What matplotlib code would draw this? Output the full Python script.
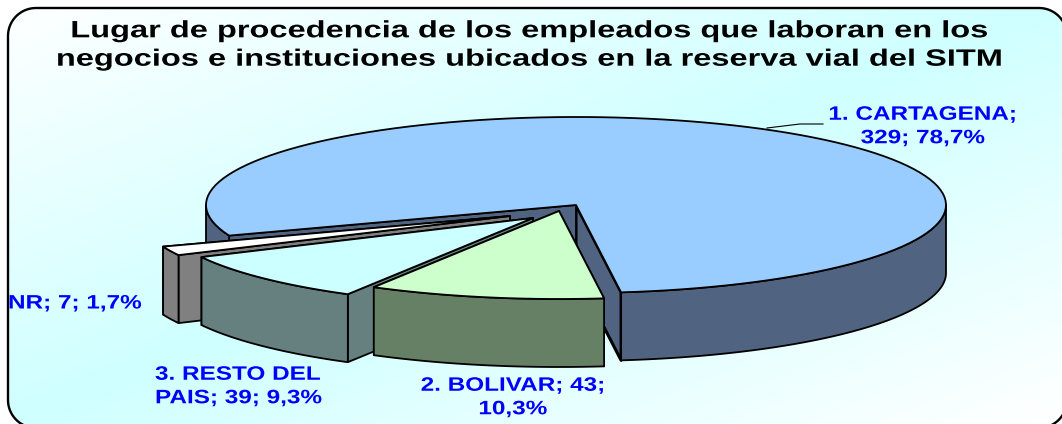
import numpy as np
from matplotlib import pyplot as plt
from matplotlib.patches import Polygon
from matplotlib.patheffects import AbstractPathEffect
from matplotlib.transforms import Affine2D
from matplotlib.colors import LinearSegmentedColormap

# data
categories = ["1. CARTAGENA", "2. BOLIVAR", "3. RESTO DEL\nPAIS", "NR"]
values = [329, 43, 39, 7]
percent_labels = ["78,7%", "10,3%", "9,3%", "1,7%"]
title = ("Lugar de procedencia de los empleados que laboran en los\n"
         "negocios e instituciones ubicados en la reserva vial del SITM")

# styles
top_colors = ["#99CCFF", "#CCFFCC", "#CCFFFF", "#FFFFFF"]
wall_colors = ["#506482", "#668066", "#668080", "#808080"]
offsets = [(0, 0), (-17, 6), (-43, 13), (-66, 11)]
draw_order = [0, 3, 2, 1]

# pie geometry in pixels
W, H = 1062, 424
CX, CY = 576, 205
RX, RY = 370, 88
DEPTH = 68
START = -83.0  # first slice ends here, slices run clockwise from it

plt.rcParams['font.family'] = ['Liberation Sans', 'DejaVu Sans']
fig = plt.figure(figsize=(W / 100, H / 100), dpi=100)
ax = fig.add_axes([0, 0, 1, 1])
ax.set_xlim(0, W)
ax.set_ylim(H, 0)
ax.axis('off')


class Stretch(AbstractPathEffect):
    # the original text is wider than any installed font, widen it about x0
    def __init__(self, sx, x0):
        super().__init__()
        self.sx = sx
        self.x0 = x0

    def draw_path(self, renderer, gc, tpath, affine, rgbFace=None):
        wide = affine + Affine2D().translate(-self.x0, 0).scale(self.sx, 1).translate(self.x0, 0)
        renderer.draw_path(gc, tpath, wide, rgbFace)


def rounded_rect(x0, y0, x1, y1, r):
    # plain line segments, curves running off the canvas get clipped badly
    t = np.radians(np.linspace(0, 90, 20))
    c, s = np.cos(t), np.sin(t)
    return np.vstack([
        np.column_stack([x1 - r + r * c, y1 - r + r * s]),
        np.column_stack([x0 + r - r * s, y1 - r + r * c]),
        np.column_stack([x0 + r - r * c, y0 + r - r * s]),
        np.column_stack([x1 - r + r * s, y0 + r - r * c]),
    ])


# rounded frame with diagonal white-cyan-white fill
frame = Polygon(rounded_rect(8, 8, 1067, 428, 28), closed=True, fc='none', ec='black',
                lw=1.7, zorder=3)
ax.add_patch(frame)
yy, xx = np.mgrid[0:1:120j, 0:1:300j]
cmap = LinearSegmentedColormap.from_list('bg', ['#FFFFFF', '#CFFFFF', '#FFFFFF'])
im = ax.imshow((xx + yy) / 2, extent=(0, W, H, 0), cmap=cmap, vmin=0.0, vmax=1.0,
               aspect='auto', zorder=0)
im.set_clip_path(frame)


def point(off, deg):
    a = np.radians(deg)
    return (CX + off[0] + RX * np.cos(a), CY + off[1] - RY * np.sin(a))


def arc(off, a0, a1):
    t = np.radians(np.linspace(a0, a1, 120))
    return np.column_stack([CX + off[0] + RX * np.cos(t), CY + off[1] - RY * np.sin(t)])


def down(pts):
    return np.asarray(pts) + [0, DEPTH]


def add_poly(pts, color, lw=1.3, z=1):
    ax.add_patch(Polygon(pts, closed=True, fc=color, ec='black', lw=lw,
                         joinstyle='round', zorder=z))


# slice angles come from the values
fracs = np.array(values) / sum(values) * 360
ends = [START + fracs[0]]
starts = [START]
cur = START
for f in fracs[1:]:
    ends.append(cur)
    starts.append(cur - f)
    cur -= f

for i in draw_order:
    off = offsets[i]
    a0, a1 = starts[i], ends[i]
    apex = np.array([[CX + off[0], CY + off[1]]])
    # radial faces, hidden one first
    for ang in (a0, a1):
        edge = np.array([point(off, ang)])
        width = 2.2 if (i == 0 and ang == a0) else 1.3
        add_poly(np.vstack([apex, edge, down(edge), down(apex)]), wall_colors[i], lw=width)
    # outer wall, only the part facing the viewer
    for k in range(-1, 2):
        lo = max(a0, 180 + 360 * k)
        hi = min(a1, 360 + 360 * k)
        if hi > lo:
            rim = arc(off, lo, hi)
            add_poly(np.vstack([rim, down(rim)[::-1]]), wall_colors[i])
    top = np.vstack([apex, arc(off, a0, a1)])
    add_poly(top, top_colors[i])

# leader line of the first label
ax.plot([767, 800, 823], [128, 124, 124], color='black', lw=0.8, zorder=2)

# title and labels
ax.text(530, 45, title, ha='center', va='center', fontsize=17, fontweight='bold',
        color='black', linespacing=1.3, zorder=4,
        path_effects=[Stretch(1.38, 530)])
blue = '#0000FF'
lab = dict(fontsize=14, fontweight='bold', color=blue, linespacing=1.5, zorder=4)
sx = 1.25
ax.text(923, 127, f"{categories[0]};\n{values[0]}; {percent_labels[0]}", ha='center', va='center',
        path_effects=[Stretch(sx, 923)], **lab)
ax.text(513, 398, f"{categories[1]}; {values[1]};\n{percent_labels[1]}", ha='center', va='center',
        path_effects=[Stretch(sx, 513)], **lab)
ax.text(155, 387, f"{categories[2]}; {values[2]}; {percent_labels[2]}", ha='left', va='center',
        path_effects=[Stretch(sx, 155)], **lab)
ax.text(8, 304, f"{categories[3]}; {values[3]}; {percent_labels[3]}", ha='left', va='center',
        path_effects=[Stretch(sx, 8)], **lab)

plt.savefig('out.png', dpi=100)
